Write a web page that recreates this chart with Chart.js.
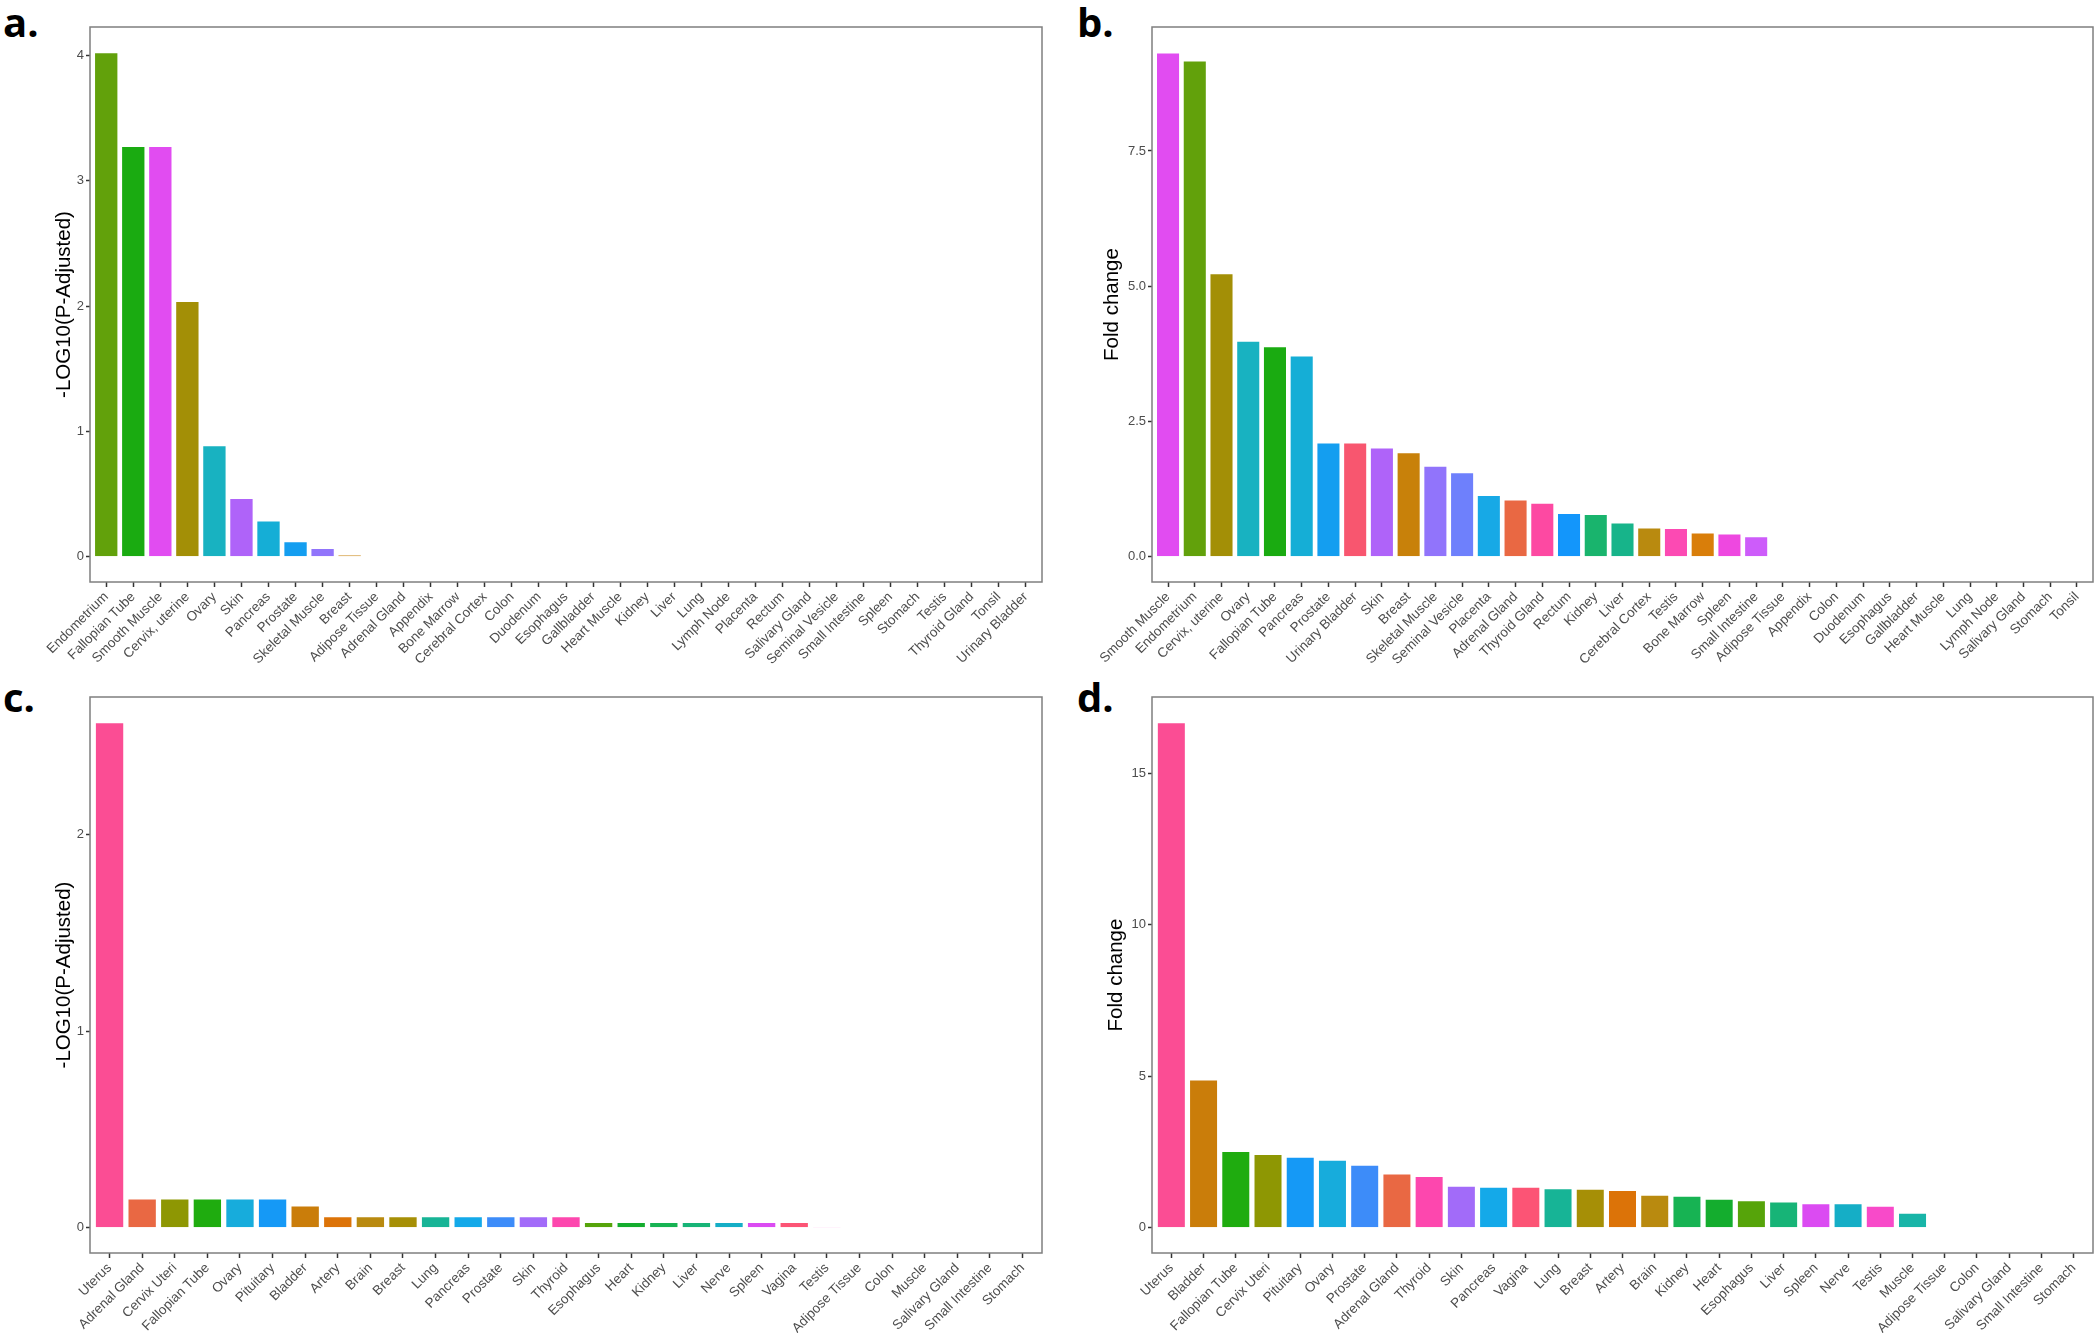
<!DOCTYPE html>
<html>
<head>
<meta charset="utf-8">
<title>Tissue enrichment</title>
<script src="https://cdn.jsdelivr.net/npm/chart.js@4.4.1/dist/chart.umd.min.js"></script>
<style>
    body {
        margin: 0;
        width: 2100px;
        height: 1333px;
        background: #fff;
        position: relative;
        overflow: hidden;
    }
    .panel {
        position: absolute;
    }
    .tag {
        position: absolute;
        font-family: "Open Sans", sans-serif;
        font-weight: 700;
        font-size: 40px;
        line-height: 40px;
        color: #000;
    }
</style>
</head>
<body>
<div class="tag" style="left:3px;top:2px">a.</div>
<div class="tag" style="left:1077px;top:2px">b.</div>
<div class="tag" style="left:3px;top:677px">c.</div>
<div class="tag" style="left:1077px;top:677px">d.</div>

<div class="panel" style="left:40px;top:0;"><canvas id="chart-a" width="1010" height="680"></canvas></div>
<div class="panel" style="left:1060px;top:0;"><canvas id="chart-b" width="1040" height="680"></canvas></div>
<div class="panel" style="left:40px;top:680px;"><canvas id="chart-c" width="1010" height="653"></canvas></div>
<div class="panel" style="left:1060px;top:680px;"><canvas id="chart-d" width="1040" height="653"></canvas></div>

<script>
// a. -log10(p-adj), tissue set 1
const tissuesA = [
    "Endometrium", "Fallopian Tube", "Smooth Muscle", "Cervix, uterine", "Ovary",
    "Skin", "Pancreas", "Prostate", "Skeletal Muscle", "Breast", "Adipose Tissue",
    "Adrenal Gland", "Appendix", "Bone Marrow", "Cerebral Cortex", "Colon",
    "Duodenum", "Esophagus", "Gallbladder", "Heart Muscle", "Kidney", "Liver",
    "Lung", "Lymph Node", "Placenta", "Rectum", "Salivary Gland", "Seminal Vesicle",
    "Small Intestine", "Spleen", "Stomach", "Testis", "Thyroid Gland", "Tonsil",
    "Urinary Bladder",
];
const pAdjA = [
    4.025, 3.277, 3.277, 2.04, 0.89, 0.47, 0.29, 0.125, 0.07, 0.015, 0,
    0, 0, 0, 0, 0, 0, 0, 0, 0, 0, 0, 0, 0, 0, 0, 0, 0, 0, 0, 0, 0, 0, 0, 0,
];
const yTicksA = [0, 1, 2, 3, 4];

// b. fold change, tissue set 1
const tissuesB = [
    "Smooth Muscle", "Endometrium", "Cervix, uterine", "Ovary", "Fallopian Tube",
    "Pancreas", "Prostate", "Urinary Bladder", "Skin", "Breast", "Skeletal Muscle",
    "Seminal Vesicle", "Placenta", "Adrenal Gland", "Thyroid Gland", "Rectum",
    "Kidney", "Liver", "Cerebral Cortex", "Testis", "Bone Marrow", "Spleen",
    "Small Intestine", "Adipose Tissue", "Appendix", "Colon", "Duodenum",
    "Esophagus", "Gallbladder", "Heart Muscle", "Lung", "Lymph Node",
    "Salivary Gland", "Stomach", "Tonsil",
];
const foldB = [
    9.32, 9.17, 5.24, 3.99, 3.89, 3.72, 2.11, 2.11, 2.02, 1.93, 1.68, 1.56,
    1.14, 1.06, 1.0, 0.81, 0.79, 0.635, 0.54, 0.53, 0.45, 0.43, 0.38,
    0, 0, 0, 0, 0, 0, 0, 0, 0, 0, 0, 0,
];
const yTicksB = [0, 2.5, 5, 7.5];

// c. -log10(p-adj), tissue set 2
const tissuesC = [
    "Uterus", "Adrenal Gland", "Cervix Uteri", "Fallopian Tube", "Ovary",
    "Pituitary", "Bladder", "Artery", "Brain", "Breast", "Lung", "Pancreas",
    "Prostate", "Skin", "Thyroid", "Esophagus", "Heart", "Kidney", "Liver",
    "Nerve", "Spleen", "Vagina", "Testis", "Adipose Tissue", "Colon", "Muscle",
    "Salivary Gland", "Small Intestine", "Stomach",
];
const pAdjC = [
    2.573, 0.149, 0.149, 0.149, 0.149, 0.149, 0.113, 0.058, 0.058, 0.058, 0.058,
    0.058, 0.058, 0.058, 0.058, 0.029, 0.029, 0.029, 0.029, 0.029, 0.029, 0.029,
    0.003, 0, 0, 0, 0, 0, 0,
];
const yTicksC = [0, 1, 2];

// d. fold change, tissue set 2
const tissuesD = [
    "Uterus", "Bladder", "Fallopian Tube", "Cervix Uteri", "Pituitary", "Ovary",
    "Prostate", "Adrenal Gland", "Thyroid", "Skin", "Pancreas", "Vagina", "Lung",
    "Breast", "Artery", "Brain", "Kidney", "Heart", "Esophagus", "Liver", "Spleen",
    "Nerve", "Testis", "Muscle", "Adipose Tissue", "Colon", "Salivary Gland",
    "Small Intestine", "Stomach",
];
const foldD = [
    16.69, 4.9, 2.535, 2.44, 2.35, 2.25, 2.08, 1.79, 1.71, 1.39, 1.36, 1.36,
    1.31, 1.29, 1.25, 1.09, 1.06, 0.96, 0.91, 0.87, 0.815, 0.81, 0.73, 0.5,
    0, 0, 0, 0, 0,
];
const yTicksD = [0, 5, 10, 15];

// bar fills, in bar order (zero bars don't need one)
const colorsA = [
    "#62a10b", "#1aab11", "#e14cf1", "#a38f06", "#18b2c1",
    "#af63f9", "#15aed6", "#149ef0", "#9174fb", "#c8810a",
];
const colorsB = [
    "#e14cf1", "#62a10b", "#a38f06", "#18b2c1", "#1aab11", "#15aed6",
    "#149ef0", "#f8566f", "#af63f9", "#c8810a", "#9174fb", "#6e80fc",
    "#17a9e6", "#e96843", "#fd49a2", "#1396fb", "#19b46d", "#17b48a",
    "#b98a0f", "#fc4ab3", "#d97e0a", "#ee48e0", "#cd5cfa",
];
const colorsC = [
    "#fb4d94", "#e96843", "#8e9703", "#1fac0f", "#17acdc", "#1599f6",
    "#ca7d0a", "#dc7308", "#b98a0f", "#a68f06", "#17b496", "#14a9e9",
    "#3d8cf9", "#a26bf9", "#fd47ae", "#56a40a", "#14ad2e", "#17b353",
    "#17b477", "#15aec6", "#db4bf2", "#fc5475", "#f84ac9",
];
const colorsD = [
    "#fb4d94", "#ca7d0a", "#1fac0f", "#8e9703", "#1599f6", "#17acdc",
    "#3d8cf9", "#e96843", "#fd47ae", "#a26bf9", "#14a9e9", "#fc5475",
    "#17b496", "#a68f06", "#dc7308", "#b98a0f", "#17b353", "#14ad2e",
    "#56a40a", "#17b477", "#db4bf2", "#15aec6", "#f84ac9", "#18b5a8",
];

const FONT = "'Liberation Sans', Arial, sans-serif";

// grey box around the plot area, like the ggplot panel border
const panelBorder = {
    id: "panelBorder",
    afterDatasetsDraw(chart) {
        const { ctx, chartArea } = chart;
        ctx.save();
        ctx.strokeStyle = "#7f7f7f";
        ctx.lineWidth = 1.5;
        ctx.strokeRect(
            chartArea.left,
            chartArea.top,
            chartArea.right - chartArea.left,
            chartArea.bottom - chartArea.top
        );
        ctx.restore();
    },
};

function drawPanel(id, cfg) {
    const ctx = document.getElementById(id).getContext("2d");
    const labels = cfg.labels;
    return new Chart(ctx, {
        type: "bar",
        data: {
            datasets: [
                {
                    data: cfg.values.map((v, i) => ({ x: i, y: v })),
                    backgroundColor: cfg.colors,
                    borderColor: "#ffffff",
                    borderWidth: 1,
                    barPercentage: 0.9,
                    categoryPercentage: 1,
                },
            ],
        },
        options: {
            responsive: false,
            animation: false,
            layout: {
                padding: { top: cfg.padTop, right: cfg.padRight, left: 0, bottom: 0 },
            },
            plugins: {
                legend: { display: false },
                tooltip: { enabled: false },
            },
            scales: {
                x: {
                    type: "linear",
                    offset: false,
                    min: -0.6,
                    max: labels.length - 0.4,
                    afterBuildTicks: (axis) => {
                        axis.ticks = labels.map((_, i) => ({ value: i }));
                    },
                    afterFit: (axis) => {
                        axis.height = cfg.xHeight;
                    },
                    ticks: {
                        autoSkip: false,
                        minRotation: 45,
                        maxRotation: 45,
                        padding: 2,
                        color: "#4d4d4d",
                        font: { family: FONT, size: 13.5 },
                        callback: (value) => labels[value],
                    },
                    grid: {
                        offset: false,
                        drawOnChartArea: false,
                        tickLength: 5,
                        tickColor: "#333",
                        tickWidth: 1.5,
                    },
                    border: { display: false },
                },
                y: {
                    min: cfg.yMin,
                    max: cfg.yMax,
                    afterBuildTicks: (axis) => {
                        axis.ticks = cfg.yTicks.map((v) => ({ value: v }));
                    },
                    afterFit: (axis) => {
                        axis.width = cfg.yWidth;
                    },
                    ticks: {
                        padding: 2,
                        color: "#4d4d4d",
                        font: { family: FONT, size: 13 },
                        callback: cfg.tickFormat,
                    },
                    grid: {
                        drawOnChartArea: false,
                        tickLength: 4,
                        tickColor: "#333",
                        tickWidth: 1.5,
                    },
                    border: { display: false },
                    title: {
                        display: true,
                        text: cfg.yTitle,
                        color: "#000",
                        font: { family: FONT, size: 20.5 },
                        padding: { top: cfg.titlePad, bottom: 0 },
                    },
                },
            },
        },
        plugins: [panelBorder],
    });
}

drawPanel("chart-a", {
    labels: tissuesA,
    values: pAdjA,
    colors: colorsA,
    yTitle: "-LOG10(P-Adjusted)",
    yMin: -0.201,
    yMax: 4.226,
    yTicks: yTicksA,
    tickFormat: (v) => String(v),
    yWidth: 50,
    titlePad: 12,
    padTop: 27,
    padRight: 8,
    xHeight: 98,
});

drawPanel("chart-b", {
    labels: tissuesB,
    values: foldB,
    colors: colorsB,
    yTitle: "Fold change",
    yMin: -0.466,
    yMax: 9.79,
    yTicks: yTicksB,
    tickFormat: (v) => v.toFixed(1),
    yWidth: 92,
    titlePad: 40,
    padTop: 27,
    padRight: 7,
    xHeight: 98,
});

drawPanel("chart-c", {
    labels: tissuesC,
    values: pAdjC,
    colors: colorsC,
    yTitle: "-LOG10(P-Adjusted)",
    yMin: -0.129,
    yMax: 2.702,
    yTicks: yTicksC,
    tickFormat: (v) => String(v),
    yWidth: 50,
    titlePad: 12,
    padTop: 17,
    padRight: 8,
    xHeight: 80,
});

drawPanel("chart-d", {
    labels: tissuesD,
    values: foldD,
    colors: colorsD,
    yTitle: "Fold change",
    yMin: -0.83,
    yMax: 17.52,
    yTicks: yTicksD,
    tickFormat: (v) => String(v),
    yWidth: 92,
    titlePad: 44,
    padTop: 17,
    padRight: 7,
    xHeight: 80,
});
</script>
</body>
</html>
